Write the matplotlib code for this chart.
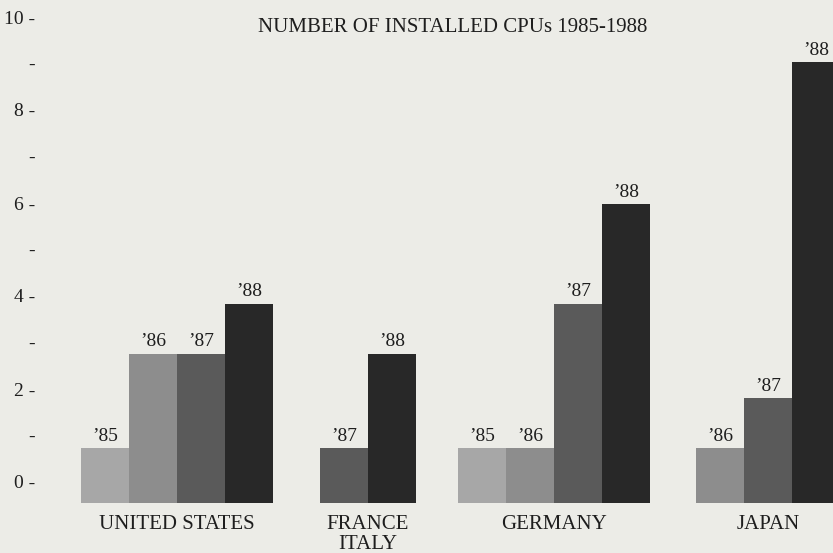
import matplotlib
matplotlib.use("Agg")
import matplotlib.pyplot as plt
import numpy as np

# ---- data ----
years = ["\u201985", "\u201986", "\u201987", "\u201988"]
countries = ["UNITED STATES", "FRANCE\nITALY", "GERMANY", "JAPAN"]
united_states = [1.1, 3, 3, 4]
france_italy = [None, None, 1.1, 3]
germany = [1.1, 1.1, 4, 6]
japan = [None, 1.1, 2.1, 8.85]
series = [united_states, france_italy, germany, japan]
y_ticks = [0, 1, 2, 3, 4, 5, 6, 7, 8, 9, 10]
y_tick_labels = ["0 -", "-", "2 -", "-", "4 -", "-", "6 -", "-", "8 -", "-", "10 -"]
title = "NUMBER OF INSTALLED CPUs 1985-1988"

# ---- layout / style ----
group_starts = [0.0, 4.98, 7.85, 12.81]
year_colors = ["#a7a7a7", "#8d8d8d", "#5a5a5a", "#282828"]
bg = "#ecece7"
font = "Liberation Serif"
W, H = 833, 553

fig = plt.figure(figsize=(W / 100, H / 100), dpi=100, facecolor=bg)
rect = [81 / W, 50 / H, (W - 81) / W, 503 / H]
ax = fig.add_axes(rect, facecolor="none")
ax.set_xlim(0, (W - 81) / 48)
ax.set_ylim(0, 503 / 49.8)
ax.axis("off")

for start, vals, name in zip(group_starts, series, countries):
    xs = []
    pos = start
    for yi, v in enumerate(vals):
        if v is None:
            continue
        ax.bar(pos, v, width=1.0, align="edge", color=year_colors[yi],
               edgecolor="none", linewidth=0)
        ax.annotate(years[yi], xy=(pos + 0.5, v), xytext=(0, 5.5),
                    textcoords="offset points", ha="center", va="baseline",
                    fontsize=14, family=font, color="#1e1e1e")
        xs.append(pos)
        pos += 1
    center = (xs[0] + xs[-1] + 1) / 2
    ax.annotate(name, xy=(center, 0), xycoords=("data", "axes fraction"),
                xytext=(0, -8.5), textcoords="offset points", ha="center",
                va="top", fontsize=15, family=font, color="#1e1e1e",
                linespacing=1.12, annotation_clip=False)

# tick axis (labels in their own scale as in the original)
axt = fig.add_axes(rect, facecolor="none", frameon=False)
axt.set_ylim((482 - 503) / 46.5, 482 / 46.5)
axt.set_xticks([])
axt.set_yticks(y_ticks)
axt.set_yticklabels(y_tick_labels, fontsize=14, family=font, color="#1e1e1e")
axt.tick_params(axis="y", length=0, pad=33)

fig.text(453 / W, 1 - 27 / H, title, ha="center", va="center",
         fontsize=15, family=font, color="#1e1e1e")

fig.savefig("out.png", dpi=100, facecolor=bg)
